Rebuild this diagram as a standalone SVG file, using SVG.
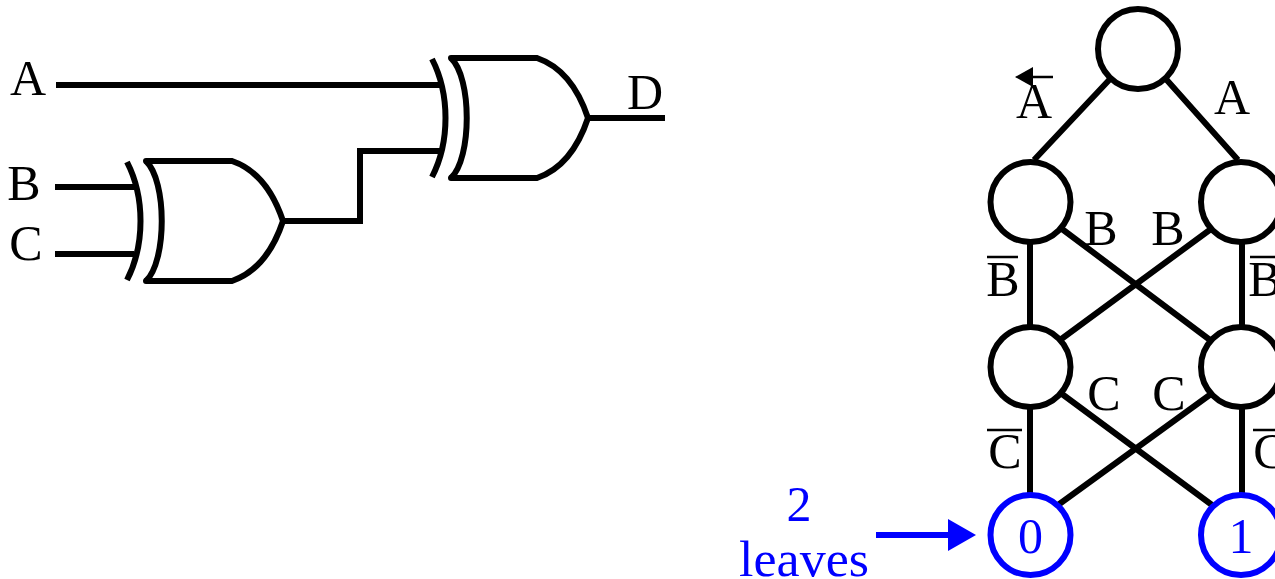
<svg xmlns="http://www.w3.org/2000/svg" width="1275" height="579" viewBox="0 0 1275 579">
<defs>
<style>
.w{fill:none;stroke:#000;stroke-width:6}
.n{fill:#fff;stroke:#000;stroke-width:6}
.l{fill:#fff;stroke:#00f;stroke-width:6}
text{font-family:"Liberation Serif","Times New Roman",serif;font-size:50px;fill:#000;text-anchor:middle}
.b{fill:#00f}
.o{fill:none;stroke:#000;stroke-width:2.5}
</style>
<g id="xor"><path class="w" d="M-156-59C-138-24-138 24-156 59"/><path class="w" stroke-linecap="round" d="M-137-60H-51Q-16-48 0 0Q-16 48-51 60H-137"/><path class="w" d="M-137-60C-116-40-116 40-137 60"/></g>
</defs>
<g id="connectors">
<path class="w" d="M56 85H442M55 187H134M55 254H134M283 221H360V151H441M588 118H665"/>
<path class="w" d="M1111 78L1034 160M1165 78L1238 160M1030 243V327M1242 243V327M1062 229L1210 340M1211 229L1060 340M1030 408V495M1242 408V495M1062 394L1212 505M1211 394L1058 505"/>
<path d="M876 535H950" fill="none" stroke="#00f" stroke-width="6"/>
<path d="M948 519L976 535L948 551Z" fill="#00f"/>
</g>
<g id="xor-lower"><use href="#xor" x="283" y="221"/></g>
<g id="xor-upper"><use href="#xor" x="588" y="118"/></g>
<g id="root"><circle class="n" cx="1138" cy="49" r="40"/></g>
<g id="b-left"><circle class="n" cx="1030.5" cy="202" r="40"/></g>
<g id="b-right"><circle class="n" cx="1241" cy="202" r="40"/></g>
<g id="c-left"><circle class="n" cx="1030.5" cy="367" r="40"/></g>
<g id="c-right"><circle class="n" cx="1241" cy="367" r="40"/></g>
<g id="leaf-0"><circle class="l" cx="1030.5" cy="535" r="40"/><text class="b" x="1030.5" y="553">0</text></g>
<g id="leaf-1"><circle class="l" cx="1241" cy="535" r="40"/><text class="b" x="1241" y="553">1</text></g>
<g id="labels">
<text x="28" y="95">A</text><text x="24" y="200">B</text><text x="26" y="260">C</text><text x="645" y="109">D</text>
<text x="1034" y="118">A</text><text x="1232" y="114">A</text>
<path d="M1053 77H1030" fill="none" stroke="#000" stroke-width="2.5"/><path d="M1015 77L1033 67V87Z"/>
<text x="1101" y="245">B</text><text x="1168" y="245">B</text>
<text x="1003" y="296">B</text><path class="o" d="M987 257H1018M1250 257H1275"/><text x="1265" y="296">B</text>
<text x="1104" y="410">C</text><text x="1169" y="410">C</text>
<text x="1005" y="468">C</text><path class="o" d="M987 430H1022M1253 430H1275"/><text x="1270" y="468">C</text>
<text class="b" x="799" y="521">2</text><text class="b" x="804" y="576" textLength="130" lengthAdjust="spacingAndGlyphs">leaves</text>
</g>
</svg>
